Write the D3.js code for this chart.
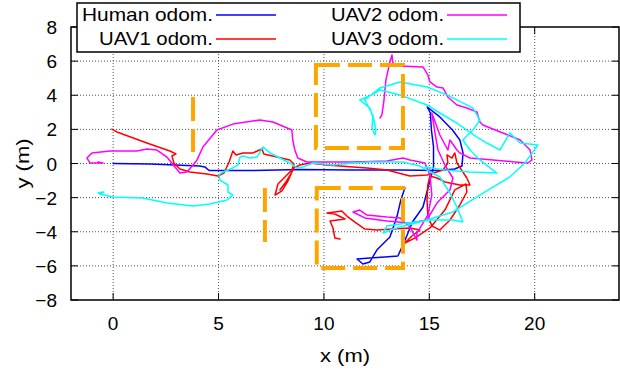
<!DOCTYPE html>
<html><head><meta charset="utf-8">
<script src="https://cdn.jsdelivr.net/npm/d3@7"></script>
<style>body{margin:0;background:#fff}svg{display:block}text{font-family:"Liberation Sans",Arial,sans-serif;fill:#000}</style>
</head><body><svg id="c" width="620" height="373"></svg>
<script>
const xTicks=[0,5,10,15,20];
const yTicks=[-8,-6,-4,-2,0,2,4,6,8];
const seriesNames=["Human odom.","UAV1 odom.","UAV2 odom.","UAV3 odom."];
const seriesColors=["#0000ff","#ff0000","#ff00ff","#00ffff"];

const human=[[0,0],[1.75,-0.03],[4.1,-0.15],[4.35,-0.2],[4.55,-0.41],[6.5,-0.41],[8.85,-0.35],[11.2,-0.38],[13.6,-0.38],[15.4,-0.41],[16.2,-0.32],[16.55,-0.15],[16.6,0.62],[16.45,1.38],[16.1,1.96],[15.5,2.73],[14.9,3.31],[15.05,2.96],[15.1,1.96],[15.2,0.97],[15.2,-0.2],[14.95,-1.38],[14.7,-2.55],[14.2,-3.43],[13.85,-4.48],[13.51,-5.42],[12.89,-5.48],[12.18,-5.54],[11.57,-5.6],[11.85,-5.89],[12.18,-5.77],[12.51,-5.07],[13.13,-4.31],[13.46,-3.14],[13.65,-2.14],[13.84,-1.44]];

const uav1=[[-0.06,2.02],[0.18,1.85],[1.60,1.20],[2.69,0.73],[2.98,0.56],[2.79,0.44],[2.88,0.03],[3.17,-0.32],[3.64,-0.50],[4.45,-0.62],[4.97,-0.73],[5.26,-0.56],[5.50,0.09],[5.68,0.73],[5.83,0.50],[6.16,0.62],[6.63,0.62],[7.06,0.85],[7.15,0.56],[7.77,0.38],[8.38,0.21],[8.58,-0.03],[8.48,-0.38],[8.15,-0.79],[7.82,-1.20],[7.68,-1.85],[8.01,-1.61],[8.29,-1.03],[8.48,-0.50],[8.20,-1.08],[7.91,-1.55],[8.34,-0.85],[8.58,-0.26],[8.86,-0.09],[9.34,0.03],[10.14,-0.09],[11.38,-0.21],[12.04,-0.26],[12.99,-0.38],[14.08,-0.73],[14.89,-0.67],[15.36,-0.50],[15.65,-0.38],[15.88,0.03],[15.84,0.50],[16.07,0.32],[16.21,0.62],[16.31,0.03],[16.59,-0.50],[16.78,-0.85],[16.93,-1.26],[16.45,-1.26],[15.74,-1.08],[15.36,-0.85],[15.03,-0.73],[14.93,-1.26],[14.89,-2.14],[14.93,-3.02],[15.12,-3.66],[15.50,-3.90],[15.98,-3.31],[16.45,-2.43],[16.78,-1.67],[16.74,-1.20],[16.21,-1.55],[15.74,-2.73],[15.03,-3.78],[14.31,-4.37],[13.84,-4.66],[14.17,-4.25],[14.55,-3.90],[14.08,-3.78],[13.27,-3.84],[12.51,-3.90],[11.94,-3.84],[11.47,-3.43],[11.09,-3.08],[10.85,-2.78],[10.52,-2.84],[10.14,-2.90],[10.52,-2.96],[11.0,-3.25],[10.29,-3.37],[10.43,-3.78],[10.52,-4.37],[10.76,-4.43]];

const uav2=[[-0.48,0.03],[-0.72,0.09],[-0.58,0.03],[-0.77,0.03],[-1.10,0.03],[-1.24,0.32],[-1.01,0.62],[-0.15,0.73],[1.13,0.73],[1.60,0.85],[2.08,0.79],[2.55,0.38],[2.93,-0.21],[3.17,-0.56],[3.50,-0.50],[3.79,-0.09],[3.98,0.21],[4.26,0.97],[4.92,1.96],[5.68,2.31],[6.96,2.55],[7.58,2.43],[8.48,1.96],[8.52,1.38],[8.62,0.79],[8.76,0.32],[9.19,0.09],[9.81,0.09],[11.38,0.09],[12.99,0.15],[13.75,0.32],[14.08,0.21],[14.79,0.03],[15.03,-0.67],[15.12,-1.85],[14.93,-3.02],[14.41,-4.08],[14.41,-4.49],[14.08,-3.72],[13.60,-3.19],[12.99,-3.14],[12.04,-3.02],[11.70,-2.73],[11.38,-2.84],[11.94,-3.19],[12.99,-3.37],[14.08,-3.49],[14.89,-3.31],[15.36,-2.32],[15.98,-1.55],[16.12,-0.85],[15.74,-0.09],[15.41,0.79],[15.27,1.79],[15.12,2.96],[15.50,1.67],[15.88,0.79],[15.98,1.38],[16.31,0.79],[16.45,0.62],[16.93,0.32],[18.02,0.21],[19.06,0.09],[19.68,0.03],[19.87,0.21],[19.78,0.79],[19.31,1.38],[18.49,1.79],[17.54,2.26],[17.40,2.43],[17.26,3.02],[16.78,3.25],[16.31,3.43],[15.88,3.90],[15.65,4.43],[15.36,4.48],[15.03,4.78],[14.93,5.19],[14.70,5.66],[13.60,5.72],[13.27,5.89],[13.23,6.36],[13.13,5.95],[12.94,4.89],[12.85,3.72],[12.75,2.84],[12.66,2.67]];

const uav3=[[-0.72,-1.73],[-0.44,-1.67],[-0.63,-1.79],[-0.01,-1.96],[1.41,-2.02],[2.55,-2.32],[3.79,-2.49],[4.59,-2.37],[5.40,-2.14],[5.68,-1.85],[5.45,-1.67],[5.45,-1.26],[5.07,-0.97],[5.02,-0.67],[5.21,-0.50],[5.68,-0.26],[5.92,-0.09],[6.02,0.38],[6.16,0.44],[6.49,0.32],[6.82,0.38],[7.11,0.97],[7.44,0.62],[7.91,0.32],[8.38,0.03],[8.72,-0.26],[9.00,-0.21],[9.48,0.03],[10.43,-0.09],[11.38,0.03],[12.18,0.09],[13.75,0.09],[14.55,-0.15],[15.50,-0.79],[15.98,-1.73],[16.31,-2.55],[16.59,-3.43],[16.12,-3.31],[15.17,-3.31],[13.94,-3.49],[12.99,-3.66],[12.80,-4.07],[13.27,-3.84],[14.55,-3.43],[16.12,-2.84],[17.73,-1.61],[18.82,-0.79],[19.53,0.03],[20.15,1.08],[19.31,1.20],[18.82,1.79],[18.35,0.79],[17.73,1.20],[17.26,1.55],[16.78,1.96],[16.31,2.37],[15.50,2.96],[14.89,3.43],[13.60,4.02],[12.66,4.31],[12.28,4.02],[11.70,3.72],[12.18,3.25],[12.32,2.73],[12.28,2.08],[12.42,1.67],[12.47,1.96],[12.32,2.84],[11.94,3.72],[12.66,4.43],[13.60,4.78],[14.89,4.48],[15.84,4.02],[17.07,3.25],[17.40,2.55],[17.07,1.96],[16.59,1.38],[16.93,0.79],[17.40,0.21],[17.88,-0.26],[18.21,-0.56],[16.93,-0.50],[15.74,-0.38],[14.79,-0.21]];

// orange areas: [x0, x1, y0, y1]
const boxes=[[9.62,13.75,0.91,5.77],[9.66,13.75,-6.13,-1.44]];
// orange vertical segments: [x, y0, y1]
const vlines=[[3.79,0.67,3.9],[7.2,-4.6,-1.44]];

const svg=d3.select("#c");
const L=71,R=619,T=27,B=300;
const x=d3.scaleLinear().domain([-2,24]).range([L,R]);
const y=d3.scaleLinear().domain([-8,8]).range([B,T]);

// grid
const g=svg.append("g");
g.selectAll(".gx").data(xTicks).join("line")
 .attr("x1",d=>x(d)).attr("x2",d=>x(d)).attr("y1",T).attr("y2",B)
 .attr("stroke","#555").attr("stroke-width",1).attr("stroke-dasharray","1,2");
g.selectAll(".gy").data(yTicks.filter(d=>d>-8&&d<8)).join("line")
 .attr("x1",L).attr("x2",R).attr("y1",d=>y(d)).attr("y2",d=>y(d))
 .attr("stroke","#555").attr("stroke-width",1).attr("stroke-dasharray","1,2");

// ticks (inward, mirrored)
const tk=7;
svg.append("g").selectAll("line").data(xTicks).join("line")
 .attr("x1",d=>x(d)).attr("x2",d=>x(d)).attr("y1",B).attr("y2",B-tk).attr("stroke","#000");
svg.append("g").selectAll("line").data(xTicks).join("line")
 .attr("x1",d=>x(d)).attr("x2",d=>x(d)).attr("y1",T).attr("y2",T+tk).attr("stroke","#000");
svg.append("g").selectAll("line").data(yTicks).join("line")
 .attr("x1",L).attr("x2",L+tk).attr("y1",d=>y(d)).attr("y2",d=>y(d)).attr("stroke","#000");
svg.append("g").selectAll("line").data(yTicks).join("line")
 .attr("x1",R).attr("x2",R-tk).attr("y1",d=>y(d)).attr("y2",d=>y(d)).attr("stroke","#000");

// tick labels
const fmt=d=>d<0?"\u2212"+Math.abs(d):String(d);
svg.append("g").selectAll("text").data(xTicks).join("text")
 .attr("x",d=>x(d)).attr("y",330).attr("text-anchor","middle").attr("font-size",19).text(fmt);
svg.append("g").selectAll("text").data(yTicks).join("text")
 .attr("x",57).attr("y",d=>y(d)+7).attr("text-anchor","end").attr("font-size",19).text(fmt);

// axis labels
svg.append("text").attr("x",x(11)).attr("y",362).attr("text-anchor","middle").attr("font-size",19)
 .attr("textLength",50).attr("lengthAdjust","spacingAndGlyphs").text("x (m)");
svg.append("text").attr("transform",`translate(29,${(T+B)/2}) rotate(-90)`).attr("text-anchor","middle").attr("font-size",19)
 .attr("textLength",50).attr("lengthAdjust","spacingAndGlyphs").text("y (m)");

// trajectories
const line=d3.line().x(d=>x(d[0])).y(d=>y(d[1]));
const series=[human,uav1,uav2,uav3];
svg.append("g").selectAll("path").data(series).join("path")
 .attr("d",line).attr("fill","none").attr("stroke",(d,i)=>seriesColors[i])
 .attr("stroke-width",1.5).attr("stroke-linejoin","round").attr("stroke-linecap","round");

// orange dashed regions
const og=svg.append("g").attr("fill","none").attr("stroke","#ffa500").attr("stroke-width",4).attr("stroke-dasharray","24,8");
og.selectAll("path").data(boxes).join("path")
 .attr("d",b=>`M${x(b[0])},${y(b[3])}H${x(b[1])}V${y(b[2])}H${x(b[0])}Z`);
og.selectAll("line").data(vlines).join("line")
 .attr("x1",v=>x(v[0])).attr("x2",v=>x(v[0])).attr("y1",v=>y(v[2])).attr("y2",v=>y(v[1]));

// frame
svg.append("rect").attr("x",L).attr("y",T).attr("width",R-L).attr("height",B-T)
 .attr("fill","none").attr("stroke","#000").attr("stroke-width",1.5);

// legend
const lg=svg.append("g");
lg.append("rect").attr("x",77).attr("y",3).attr("width",443).attr("height",49)
 .attr("fill","#fff").attr("stroke","#000").attr("stroke-width",1.5);
const legPos=[[213,21],[213,45],[444,21],[444,45]];
const legW=[131,114,113,113];
seriesNames.forEach((n,i)=>{
  const [tx,ty]=legPos[i];
  lg.append("text").attr("x",tx).attr("y",ty).attr("text-anchor","end").attr("font-size",19)
    .attr("textLength",legW[i]).attr("lengthAdjust","spacingAndGlyphs").text(n);
  lg.append("line").attr("x1",tx+3).attr("x2",tx+63).attr("y1",ty-6).attr("y2",ty-6)
    .attr("stroke",seriesColors[i]).attr("stroke-width",1.5);
});
</script></body></html>
